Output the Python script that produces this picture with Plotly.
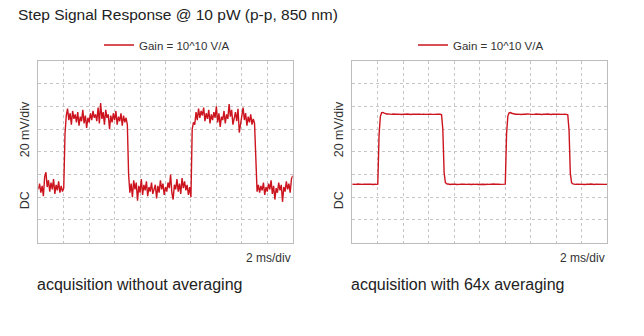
import plotly.graph_objects as go

# ---- data (time in ms, signal in mV) ----
T_STEP = 0.1
raw_mv = [
    47, 52, 44, 50, 41, 58, 62, 49, 55, 45,
    53, 47, 56, 43, 51, 46, 54, 44, 50, 45,
    48, 96, 112, 118, 108, 114, 104, 116, 109, 113,
    106, 115, 103, 111, 107, 117, 105, 112, 101, 110,
    106, 114, 108, 116, 110, 113, 107, 119, 105, 123,
    109, 115, 104, 117, 110, 113, 100, 112, 106, 114,
    108, 116, 104, 111, 107, 114, 103, 112, 106, 110,
    104, 60, 44, 52, 40, 55, 47, 53, 37, 50,
    44, 56, 42, 51, 46, 54, 41, 49, 45, 53,
    43, 48, 51, 39, 50, 44, 55, 47, 52, 42,
    49, 45, 53, 48, 60, 44, 38, 51, 47, 56,
    45, 52, 43, 57, 48, 54, 46, 51, 42, 49,
    40, 100, 106, 104, 115, 108, 118, 110, 116, 112,
    119, 107, 114, 109, 117, 105, 113, 108, 115, 110,
    120, 106, 114, 102, 111, 108, 116, 105, 113, 109,
    122, 111, 117, 104, 110, 115, 107, 118, 97, 104,
    112, 119, 108, 114, 103, 111, 106, 113, 104, 109,
    105, 70, 45, 51, 44, 50, 46, 53, 42, 49,
    45, 52, 47, 55, 43, 50, 38, 48, 44, 53,
    46, 51, 36, 49, 45, 54, 47, 52, 44, 56,
    59,
]
avg_mv = [
    51.5, 51.3, 51.6, 51.4, 51.7, 51.5, 51.2, 51.6, 51.4, 51.5,
    51.6, 51.3, 51.5, 51.7, 51.4, 51.5, 51.3, 51.6, 51.5, 51.4,
    51.5, 95.0, 111.0, 114.5, 114.7, 114.1, 113.6, 113.3, 113.4, 113.1,
    113.2, 113.0, 113.3, 112.9, 113.1, 113.2, 113.0, 113.3, 113.1, 112.9,
    113.2, 113.0, 113.1, 113.3, 113.0, 113.2, 112.9, 113.1, 113.3, 113.0,
    113.1, 113.2, 112.9, 113.1, 113.0, 113.3, 113.1, 113.0, 113.2, 113.1,
    113.0, 113.2, 113.1, 112.9, 113.2, 113.0, 113.1, 113.3, 113.0, 113.1,
    112.7, 100.0, 62.0, 53.0, 51.9, 51.5, 51.6, 51.3, 51.5, 51.7,
    51.4, 51.5, 51.3, 51.6, 51.4, 51.5, 51.7, 51.3, 51.5, 51.4,
    51.6, 51.4, 51.5, 51.3, 51.6, 51.5, 51.4, 51.7, 51.5, 51.3,
    51.5, 51.6, 51.4, 51.5, 51.3, 51.6, 51.5, 51.4, 51.6, 51.5,
    51.4, 51.7, 51.5, 51.3, 51.6, 51.5, 51.4, 51.6, 51.5, 51.4,
    51.6, 96.0, 111.5, 114.4, 114.6, 114.0, 113.5, 113.3, 113.1, 113.2,
    113.0, 113.3, 113.1, 112.9, 113.2, 113.0, 113.1, 113.3, 113.0, 113.2,
    113.1, 112.9, 113.2, 113.0, 113.3, 113.1, 113.0, 113.2, 113.1, 112.9,
    113.2, 113.0, 113.1, 113.3, 113.0, 113.2, 112.9, 113.1, 113.3, 113.0,
    113.1, 113.2, 113.0, 113.1, 113.2, 113.0, 113.1, 113.2, 113.0, 112.6,
    99.0, 61.0, 52.8, 51.8, 51.5, 51.4, 51.6, 51.5, 51.3, 51.5,
    51.4, 51.6, 51.5, 51.3, 51.6, 51.4, 51.5, 51.7, 51.4, 51.5,
    51.3, 51.6, 51.5, 51.4, 51.6, 51.5, 51.3, 51.6, 51.5, 51.4,
    51.5,
]
legend_name = "Gain = 10^10 V/A"
title_text = "Step Signal Response @ 10 pW (p-p, 850 nm)"
captions = ["acquisition without averaging", "acquisition with 64x averaging"]
y_label_top = "20 mV/div"
y_label_bottom = "DC"
x_label = "2 ms/div"

t_raw = [round(i * T_STEP, 3) for i in range(len(raw_mv))]
t_avg = [round(i * T_STEP, 3) for i in range(len(avg_mv))]

W, H = 644, 336
RED = "#cc141e"
FONT = "Liberation Sans, Arial, Helvetica, sans-serif"

fig = go.Figure()
fig.add_trace(go.Scatter(x=t_raw, y=raw_mv, mode="lines", name=legend_name,
                         line=dict(color=RED, width=1.4), xaxis="x", yaxis="y",
                         legend="legend"))
fig.add_trace(go.Scatter(x=t_avg, y=avg_mv, mode="lines", name=legend_name,
                         line=dict(color=RED, width=1.4), xaxis="x2", yaxis="y2",
                         legend="legend2"))

def px(v):
    return v / W

def py(v):
    return 1 - v / H

ax_common = dict(range=[0, 20], dtick=2, tick0=0, showticklabels=False, ticks="",
                 showgrid=True, gridcolor="#c6c6c6", griddash="dot", gridwidth=1,
                 showline=True, linecolor="#bdbdbd", linewidth=1, mirror=True,
                 zeroline=False, fixedrange=True)
ay_common = dict(range=[0, 160], dtick=20, tick0=0, showticklabels=False, ticks="",
                 showgrid=True, gridcolor="#c6c6c6", griddash="dot", gridwidth=1,
                 showline=True, linecolor="#bdbdbd", linewidth=1, mirror=True,
                 zeroline=False, fixedrange=True)

plots = [(38.3, 292.7), (352.3, 607.3)]
ydom = [py(242.7), py(61)]

leg_common = dict(orientation="h", xanchor="left", yanchor="middle",
                  font=dict(family=FONT, size=11.5, color="#333333"),
                  bgcolor="rgba(0,0,0,0)", borderwidth=0, itemwidth=30)

fig.update_layout(
    width=W, height=H, margin=dict(l=0, r=0, t=0, b=0),
    paper_bgcolor="white", plot_bgcolor="white",
    xaxis=dict(domain=[px(plots[0][0]), px(plots[0][1])], anchor="y", **ax_common),
    yaxis=dict(domain=ydom, anchor="x", **ay_common),
    xaxis2=dict(domain=[px(plots[1][0]), px(plots[1][1])], anchor="y2", **ax_common),
    yaxis2=dict(domain=ydom, anchor="x2", **ay_common),
    legend=dict(x=px(99), y=py(45), **leg_common),
    legend2=dict(x=px(413), y=py(45), **leg_common),
    showlegend=True,
)

ann = []
ann.append(dict(text=title_text, x=px(16), y=py(15), xref="paper", yref="paper",
                xanchor="left", yanchor="middle", showarrow=False,
                font=dict(family=FONT, size=15.5, color="#222222")))
for i, (x0, x1) in enumerate(plots):
    ann.append(dict(text=y_label_top, x=px(x0 - 13), y=py(129), xref="paper", yref="paper",
                    xanchor="center", yanchor="middle", textangle=-90, showarrow=False,
                    font=dict(family=FONT, size=12.5, color="#333333")))
    ann.append(dict(text=y_label_bottom, x=px(x0 - 13), y=py(200), xref="paper", yref="paper",
                    xanchor="center", yanchor="middle", textangle=-90, showarrow=False,
                    font=dict(family=FONT, size=12.5, color="#333333")))
    ann.append(dict(text=x_label, x=px(x1), y=py(258), xref="paper", yref="paper",
                    xanchor="right", yanchor="middle", showarrow=False,
                    font=dict(family=FONT, size=12, color="#333333")))
    ann.append(dict(text=captions[i], x=px(x0 - 3), y=py(284), xref="paper", yref="paper",
                    xanchor="left", yanchor="middle", showarrow=False,
                    font=dict(family=FONT, size=16, color="#222222")))
fig.update_layout(annotations=ann)

fig.write_html("out.html")
